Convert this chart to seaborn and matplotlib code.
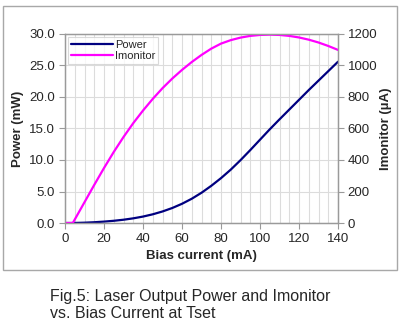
import matplotlib
matplotlib.use("Agg")
import matplotlib.pyplot as plt
import matplotlib.patches as mpatches
from matplotlib.ticker import MultipleLocator
import seaborn as sns
import pandas as pd

bias_ma = [0, 4, 10, 15, 20, 25, 30, 35, 40, 45, 50, 55, 60, 65, 70, 75, 80, 85,
           90, 95, 100, 105, 110, 115, 120, 125, 130, 135, 140]
power_mw = [0, 0, 0.05, 0.12, 0.22, 0.35, 0.52, 0.74, 1.02, 1.38, 1.83, 2.38,
            3.05, 3.85, 4.8, 5.9, 7.12, 8.47, 9.97, 11.57, 13.22, 14.87, 16.45,
            18.0, 19.55, 21.1, 22.6, 24.1, 25.6]
imon_ua = [0, 0, 132, 242, 349, 451, 546, 634, 714, 788, 856, 917, 972, 1022,
           1067, 1107, 1139, 1161, 1177, 1188, 1194, 1196, 1194, 1188, 1178,
           1164, 1146, 1124, 1099]
caption = "Fig.5: Laser Output Power and Imonitor\nvs. Bias Current at Tset"

df = pd.DataFrame({"bias": bias_ma, "power": power_mw, "imon": imon_ua})

sns.set_style("white")
plt.rcParams["font.family"] = ["Liberation Sans", "DejaVu Sans"]

fig = plt.figure(figsize=(4.0, 3.24), dpi=100)
ax = fig.add_axes([65/400, 1 - 223/324, (338 - 65)/400, (223 - 34)/324])
ax2 = ax.twinx()

sns.lineplot(data=df, x="bias", y="power", ax=ax, color="#000080", lw=1.6,
             label="Power", legend=False)
sns.lineplot(data=df, x="bias", y="imon", ax=ax2, color="#FF00FF", lw=1.6,
             label="Imonitor", legend=False)

ax.set_xlim(0, 140)
ax.set_ylim(0, 30)
ax2.set_ylim(0, 1200)
ax.xaxis.set_major_locator(MultipleLocator(20))
ax.xaxis.set_minor_locator(MultipleLocator(5))
ax.yaxis.set_major_locator(MultipleLocator(5))
ax2.yaxis.set_major_locator(MultipleLocator(200))
ax.yaxis.set_major_formatter(matplotlib.ticker.FormatStrFormatter("%.1f"))

ax.grid(True, which="both", axis="x", color="#dcdcdc", lw=0.8)
ax.grid(True, which="major", axis="y", color="#dcdcdc", lw=0.8)
ax.set_axisbelow(True)

for a in (ax, ax2):
    for s in a.spines.values():
        s.set_color("#9a9a9a")
        s.set_linewidth(0.9)
ax.tick_params(axis="both", which="major", direction="out", length=4,
               color="#9a9a9a", labelsize=9.5, pad=3, left=True, bottom=True)
ax.tick_params(axis="x", which="minor", length=0)
ax2.tick_params(axis="y", direction="out", length=4, color="#9a9a9a",
                labelsize=9.5, pad=3, right=True)

ax.set_xlabel("Bias current (mA)", fontsize=9.5, fontweight="bold", labelpad=4)
ax.set_ylabel("Power (mW)", fontsize=9.5, fontweight="bold", labelpad=4)
ax2.set_ylabel("Imonitor (µA)", fontsize=9.5, fontweight="bold", labelpad=2)

h1, l1 = ax.get_legend_handles_labels()
h2, l2 = ax2.get_legend_handles_labels()
leg = ax2.legend(h1 + h2, l1 + l2, loc="upper left",
                 bbox_to_anchor=(68/400, 1 - 37/324), bbox_transform=fig.transFigure,
                 fontsize=8, frameon=True, fancybox=False, handlelength=3.8,
                 handletextpad=0.2, borderpad=0.25, labelspacing=0.1,
                 borderaxespad=0)
leg.get_frame().set_edgecolor("#d0d0d0")
leg.get_frame().set_linewidth(0.8)

fig.patches.append(mpatches.Rectangle((3/400, 1 - 270/324), 394/400, 264/324,
                                      transform=fig.transFigure, fill=False,
                                      edgecolor="#a8a8a8", lw=1.0))

fig.text(50/400, 1 - 305/324, caption, fontsize=11.5, va="center", ha="left",
         linespacing=1.2)

fig.savefig("out.png", dpi=100)
